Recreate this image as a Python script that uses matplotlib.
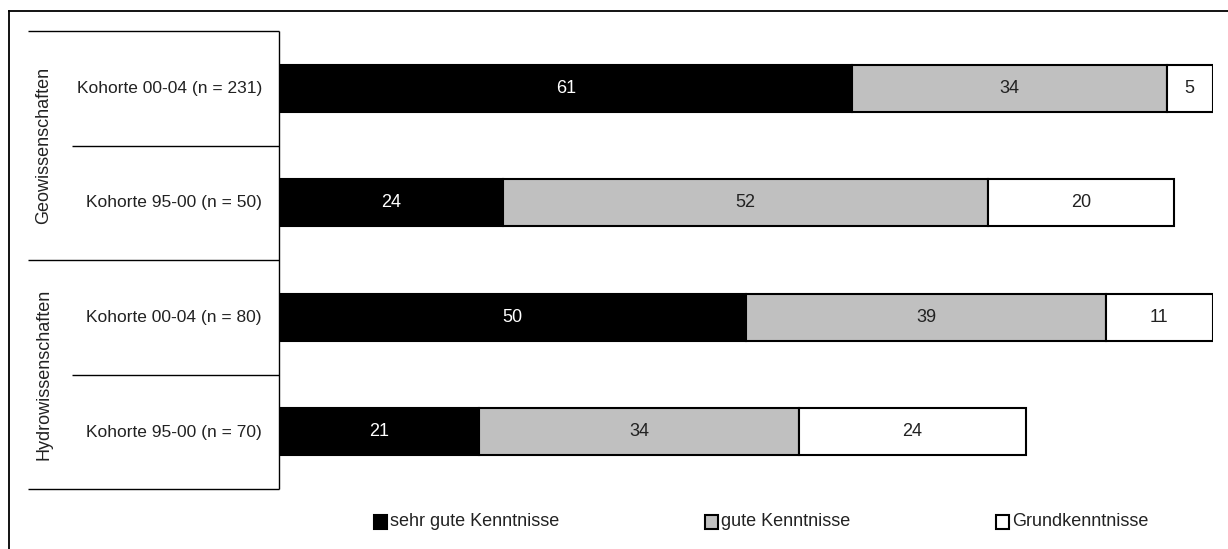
import numpy as np
import matplotlib
matplotlib.use("Agg")
import matplotlib.pyplot as plt
from matplotlib.patches import Rectangle

plt.rcParams['font.family'] = ['Liberation Sans', 'DejaVu Sans']

groups = ["Geowissenschaften", "Hydrowissenschaften"]
cohorts = ["Kohorte 00-04 (n = 231)", "Kohorte 95-00 (n = 50)",
           "Kohorte 00-04 (n = 80)", "Kohorte 95-00 (n = 70)"]
series = ["sehr gute Kenntnisse", "gute Kenntnisse", "Grundkenntnisse"]
sehr_gut = [61.4, 24.0, 50.0, 21.4]
gut = [33.7, 51.9, 38.6, 34.3]
grund = [4.9, 20.0, 11.4, 24.3]

colors = ["#000000", "#c0c0c0", "#ffffff"]
text_colors = ["white", "#222222", "#222222"]

W, H = 1228, 549
fig = plt.figure(figsize=(W / 100, H / 100), dpi=100)

# overlay in pixel coordinates for frame, label table and legend
ov = fig.add_axes([0, 0, 1, 1])
ov.set_xlim(0, W)
ov.set_ylim(H, 0)
ov.axis("off")
lk = dict(color="black", lw=1.0, solid_capstyle="butt")
ov.plot([9, W], [11, 11], color="black", lw=1.3)
ov.plot([9, 9], [11, H], color="black", lw=1.3)
ov.plot([279, 279], [31, 489], **lk)
for y, x0 in [(31, 28), (146, 72), (260, 28), (375, 72), (489, 28)]:
    ov.plot([x0, 279], [y, y], **lk)

row_y = [88.5, 203, 317.5, 432]
for lab, y in zip(cohorts, row_y):
    ov.text(262, y, lab, ha="right", va="center", fontsize=12.5, color="#222222")
for g, y in zip(groups, [145.5, 374.5]):
    ov.text(44, y, g, ha="center", va="center", rotation=90, fontsize=13, color="#222222")

for name, c, x0 in zip(series, colors, [374, 705, 996]):
    ov.add_patch(Rectangle((x0, 515), 13, 14, facecolor=c, edgecolor="black", lw=1.5))
    ov.text(x0 + 16, 522, name, ha="left", va="center", fontsize=13, color="#222222")

# bar chart
ax = fig.add_axes([279.5 / W, 1 - 489 / H, 933 / W, 458 / H])
ax.set_xlim(0, 100)
ax.set_ylim(3.5, -0.5)
ax.axis("off")
ax.patch.set_alpha(0)

pos = np.arange(len(cohorts))
left = np.zeros(len(cohorts))
for vals, c, tc in zip([sehr_gut, gut, grund], colors, text_colors):
    vals = np.array(vals)
    ax.barh(pos, vals, left=left, height=0.41, color=c, edgecolor="black", linewidth=1.5)
    for p, l, v in zip(pos, left, vals):
        ax.text(l + v / 2, p, f"{v:.0f}", ha="center", va="center", fontsize=13, color=tc)
    left = left + vals

fig.savefig("out.png", dpi=100)
